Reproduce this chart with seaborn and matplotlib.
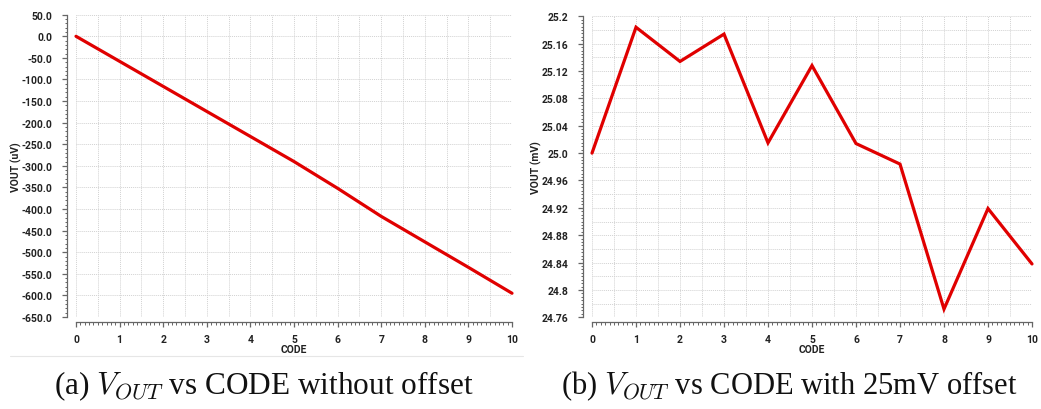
import numpy as np
import matplotlib
matplotlib.use("Agg")
import matplotlib.pyplot as plt
from matplotlib.ticker import MultipleLocator, FixedLocator, FixedFormatter
from matplotlib.lines import Line2D
import seaborn as sns

# Sweep data
codes = list(range(11))
vout_no_offset_uv = [0, -58, -116, -174, -232, -290, -352, -417, -476, -535, -595]
vout_offset_mv = [25.0, 25.184, 25.134, 25.174, 25.015, 25.128, 25.014, 24.984, 24.772, 24.919, 24.838]

# Axis ticks and labels
left_yticks = list(range(-650, 51, 50))
left_yticklabels = [f"{v:.1f}" for v in left_yticks]
right_yticks = [24.76, 24.80, 24.84, 24.88, 24.92, 24.96, 25.00, 25.04, 25.08, 25.12, 25.16, 25.20]
right_yticklabels = ["24.76", "24.8", "24.84", "24.88", "24.92", "24.96", "25.0",
                     "25.04", "25.08", "25.12", "25.16", "25.2"]
xlabel = "CODE"
ylabels = ["VOUT (uV)", "VOUT (mV)"]
captions = ["(a) $V_{OUT}$ vs CODE without offset",
            "(b) $V_{OUT}$ vs CODE with 25mV offset"]

sns.set_style("white")
plt.rcParams["font.family"] = ["Roboto", "DejaVu Sans"]
plt.rcParams["mathtext.fontset"] = "cm"

W, H = 1041, 410
fig = plt.figure(figsize=(W / 100, H / 100), dpi=100)

def px_axes(x0, y0, x1, y1):
    return fig.add_axes([x0 / W, 1 - y1 / H, (x1 - x0) / W, (y1 - y0) / H])

ax1 = px_axes(76, 15.7, 512, 318)
ax2 = px_axes(592, 17.3, 1032, 318.3)

LINE_RED = "#e00000"
GRID = "#d2d2d2"
SPINE = "#666666"
TEXT = "#222222"
TICK_FS = 7.5


def style(ax, ylim, yticks, yticklabels, yminor, ygrid_step, ylabel):
    ax.set_xlim(0, 10)
    ax.set_ylim(*ylim)
    for s in ("top", "right"):
        ax.spines[s].set_visible(False)
    ax.spines["left"].set_position(("outward", 6.5))
    ax.spines["bottom"].set_position(("outward", 3.6))
    for s in ("left", "bottom"):
        ax.spines[s].set_color(SPINE)
        ax.spines[s].set_linewidth(0.9)

    ax.xaxis.set_major_locator(FixedLocator(codes))
    ax.xaxis.set_major_formatter(FixedFormatter([str(c) for c in codes]))
    ax.xaxis.set_minor_locator(MultipleLocator(0.1))
    ax.yaxis.set_major_locator(FixedLocator(yticks))
    ax.yaxis.set_major_formatter(FixedFormatter(yticklabels))
    ax.yaxis.set_minor_locator(MultipleLocator(yminor))

    ax.tick_params(which="major", direction="out", length=3.6, width=0.9,
                   color=SPINE, labelsize=TICK_FS, labelcolor=TEXT, pad=5,
                   left=True, bottom=True)
    ax.tick_params(which="minor", direction="out", length=1.8, width=0.7,
                   color=SPINE, left=True, bottom=True)
    ax.tick_params(axis="y", which="major", pad=7)
    for lab in ax.get_xticklabels() + ax.get_yticklabels():
        lab.set_fontweight("bold")

    # dotted grid
    for gx in np.arange(0, 10.01, 0.5):
        ax.axvline(gx, color=GRID, lw=0.7, ls=(0, (1, 1)), zorder=0)
    lo, hi = ylim
    for gy in np.arange(lo, hi + ygrid_step * 0.01, ygrid_step):
        ax.axhline(gy, color=GRID, lw=0.7, ls=(0, (1, 1)), zorder=0)
    ax.grid(False)

    ax.set_xlabel(xlabel, fontsize=TICK_FS, fontweight="bold", color=TEXT, labelpad=0)
    ax.set_ylabel(ylabel, fontsize=TICK_FS, fontweight="bold", color=TEXT, labelpad=-0.5)


sns.lineplot(x=codes, y=vout_no_offset_uv, ax=ax1, color=LINE_RED, linewidth=2.3)
sns.lineplot(x=codes, y=vout_offset_mv, ax=ax2, color=LINE_RED, linewidth=2.3)
for ax in (ax1, ax2):
    for ln in ax.lines:
        ln.set_clip_on(False)
        ln.set_solid_joinstyle("miter")

style(ax1, (-650, 50), left_yticks, left_yticklabels, 10, 50, ylabels[0])
style(ax2, (24.76, 25.2), right_yticks, right_yticklabels, 0.005, 0.02, ylabels[1])

# panel frame line under the left chart
fig.add_artist(Line2D([10 / W, 523 / W], [1 - 357 / H] * 2, color="#e6e6e6", lw=0.8))

# captions
fig.text(264 / W, 1 - 386 / H, captions[0], ha="center", va="center",
         family="Liberation Serif", fontsize=22.5, color="#111111")
fig.text(789 / W, 1 - 386 / H, captions[1], ha="center", va="center",
         family="Liberation Serif", fontsize=22, color="#111111")

fig.savefig("out.png", dpi=100, facecolor="white")
